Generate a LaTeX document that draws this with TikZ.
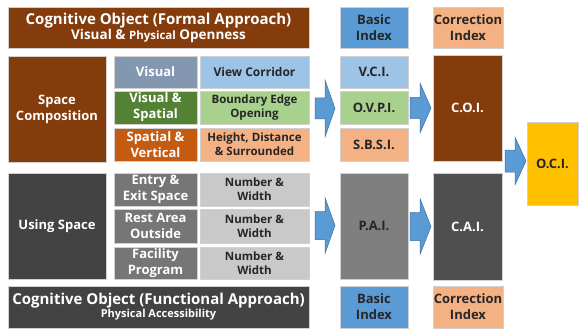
\documentclass[tikz,border=0pt]{standalone}
\usepackage{fontspec}
\setmainfont{Open Sans}
\usetikzlibrary{calc}

\definecolor{brownbox}{HTML}{843C0C}
\definecolor{slateblue}{HTML}{8497B0}
\definecolor{leafgreen}{HTML}{548235}
\definecolor{burnt}{HTML}{C55A11}
\definecolor{skyblue}{HTML}{9DC3E6}
\definecolor{palegreen}{HTML}{A9D18E}
\definecolor{peach}{HTML}{F4B183}
\definecolor{midblue}{HTML}{5B9BD5}
\definecolor{arrowedge}{HTML}{41719C}
\definecolor{gold}{HTML}{FFC000}
\definecolor{darkgrey}{HTML}{434343}
\definecolor{cagrey}{HTML}{4F4F4F}
\definecolor{midgrey}{HTML}{767676}
\definecolor{paigrey}{HTML}{7F7F7F}
\definecolor{lightgrey}{HTML}{C9C9C9}
\definecolor{inktext}{HTML}{262626}

\tikzset{
  cell/.style={draw=white!82!black, line width=0.5pt, inner sep=1pt,
    align=center, font=\bfseries\fontsize{13}{16}\selectfont,
    text=inktext},
  darkcell/.style={cell, text=white},
  smalltext/.style={font=\bfseries\fontsize{11.5}{14}\selectfont},
  banner/.style={cell, text=white, font=\bfseries\fontsize{15}{16}\selectfont},
  blockarrow/.style={fill=midblue, draw=arrowedge, line width=0.5pt, line join=miter}
}

% block arrow: tail x, head base x, tip x, centre y, shaft half height, head half height
\newcommand{\flowarrow}[6]{%
  \draw[blockarrow] (#1,#4-#5) -- (#2,#4-#5) -- (#2,#4-#6) -- (#3,#4)
    -- (#2,#4+#6) -- (#2,#4+#5) -- (#1,#4+#5) -- cycle;}

\begin{document}
\begin{tikzpicture}[x=1pt,y=-1pt]
\useasboundingbox (0,0) rectangle (579,329);

% ---- formal approach ----
\node[banner, fill=brownbox, minimum width=301pt, minimum height=41pt] (formal) at (158.5,27.5)
  {Cognitive Object (Formal Approach)\\[-1pt]{\fontsize{13.5}{14}\selectfont Visual \& {\fontsize{11.5}{12}\selectfont Physical} Openness}};

\node[darkcell, fill=brownbox, minimum width=98pt, minimum height=106pt] (spacecomp) at (57,109) {Space\\Composition};

\node[darkcell, fill=slateblue, minimum width=83pt, minimum height=32pt] (visual) at (155.5,72) {Visual};
\node[darkcell, fill=leafgreen, minimum width=83pt, minimum height=33pt] (visspatial) at (155.5,107.5) {Visual \&\\Spatial};
\node[darkcell, fill=burnt, minimum width=83pt, minimum height=33pt] (spvert) at (155.5,144.5) {Spatial \&\\Vertical};

\node[cell, fill=skyblue, minimum width=109pt, minimum height=32pt, font=\bfseries\fontsize{12}{14}\selectfont] (corridor) at (254.5,72) {View Corridor};
\node[cell, fill=palegreen, minimum width=109pt, minimum height=33pt, smalltext] (boundary) at (254.5,107.5) {Boundary Edge\\Opening};
\node[cell, fill=peach, minimum width=109pt, minimum height=33pt, smalltext] (height) at (254.5,144.5) {Height, Distance\\\& Surrounded};

\node[cell, fill=midblue, minimum width=68pt, minimum height=41pt] (basictop) at (374,27.5) {Basic\\Index};
\node[cell, fill=skyblue, minimum width=68pt, minimum height=32pt] (vci) at (374,72) {V.C.I.};
\node[cell, fill=palegreen, minimum width=68pt, minimum height=33pt] (ovpi) at (374,107.5) {O.V.P.I.};
\node[cell, fill=peach, minimum width=68pt, minimum height=33pt] (sbsi) at (374,144.5) {S.B.S.I.};

\node[cell, fill=peach, minimum width=68pt, minimum height=41pt] (corrtop) at (468,27.5) {Correction\\Index};
\node[darkcell, fill=brownbox, minimum width=69pt, minimum height=106pt] (coi) at (467.5,108) {C.O.I.};

\node[cell, fill=gold, minimum width=51pt, minimum height=83pt] (oci) at (552.5,163.5) {O.C.I.};

% ---- functional approach ----
\node[darkcell, fill=darkgrey, minimum width=98pt, minimum height=106pt] (using) at (57,226) {Using Space};

\node[darkcell, fill=midgrey, minimum width=83pt, minimum height=33pt] (entry) at (155.5,189.5) {Entry \&\\Exit Space};
\node[darkcell, fill=midgrey, minimum width=83pt, minimum height=34pt] (rest) at (155.5,226) {Rest Area\\Outside};
\node[darkcell, fill=midgrey, minimum width=83pt, minimum height=32pt] (facility) at (155.5,263) {Facility\\Program};

\node[cell, fill=lightgrey, minimum width=109pt, minimum height=33pt, smalltext] (numA) at (254.5,189.5) {Number \&\\Width};
\node[cell, fill=lightgrey, minimum width=109pt, minimum height=34pt, smalltext] (numB) at (254.5,226) {Number \&\\Width};
\node[cell, fill=lightgrey, minimum width=109pt, minimum height=32pt, smalltext] (numC) at (254.5,263) {Number \&\\Width};

\node[cell, fill=paigrey, minimum width=68pt, minimum height=106pt] (pai) at (374,226) {P.A.I.};
\node[darkcell, fill=cagrey, minimum width=69pt, minimum height=107pt] (cai) at (467.5,226.5) {C.A.I.};

\node[banner, fill=darkgrey, minimum width=301pt, minimum height=42pt] (functional) at (158.5,307)
  {Cognitive Object (Functional Approach)\\[-3pt]{\fontsize{11}{12}\selectfont Physical Accessibility}};
\node[cell, fill=midblue, minimum width=68pt, minimum height=42pt] (basicbot) at (374,307) {Basic\\Index};
\node[cell, fill=peach, minimum width=68pt, minimum height=42pt] (corrbot) at (468,307) {Correction\\Index};

% ---- block arrows ----
\flowarrow{315}{325}{335}{108.5}{10.5}{28.5}
\flowarrow{410}{420}{431}{108}{10.5}{25}
\flowarrow{315}{325}{335}{225.5}{14}{28}
\flowarrow{410}{420}{431}{226.5}{14}{28}
\flowarrow{505}{515}{526}{161}{11}{24}
\end{tikzpicture}
\end{document}
